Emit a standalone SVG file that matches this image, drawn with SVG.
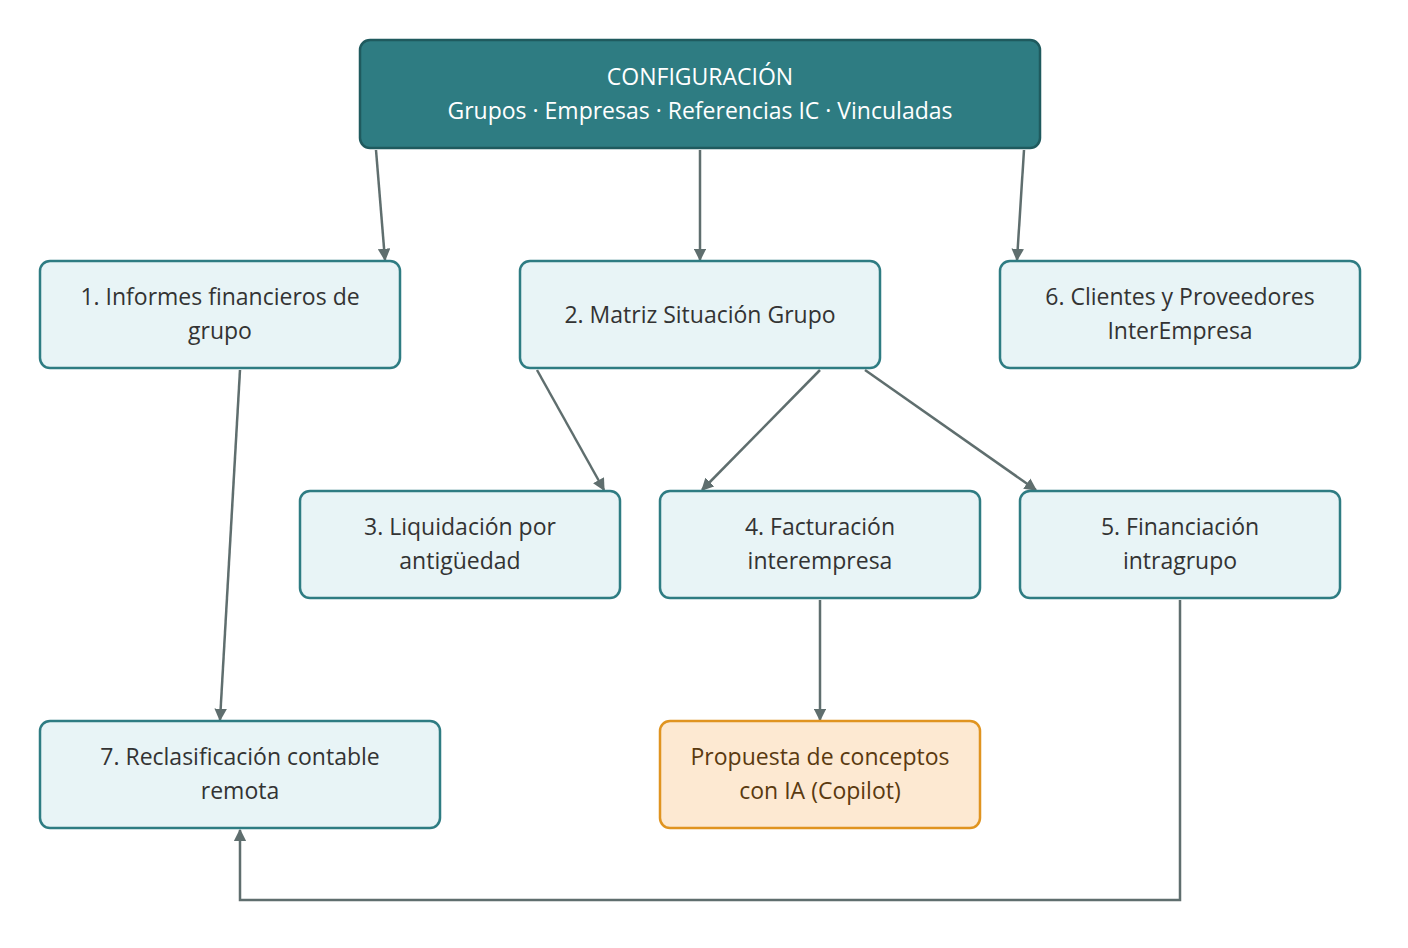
<svg xmlns="http://www.w3.org/2000/svg" width="1408" height="948" viewBox="0 0 1408 948">
<style>
.n rect{fill:#e8f4f6;stroke:#2e7c82;stroke-width:2.5}
.n text{font-family:"Segoe UI","Open Sans","Noto Sans",sans-serif;font-size:23px;fill:#333;text-anchor:middle}
#top rect{fill:#2e7c82;stroke:#1f5a5e}
#top text{fill:#fff}
#ia rect{fill:#fde9d2;stroke:#e09420}
#ia text{fill:#5a3a10}
.c path{fill:none;stroke:#5f6e6e;stroke-width:2.5;marker-end:url(#a)}
</style>
<defs><marker id="a" viewBox="0 0 10 10" refX="9" refY="5" markerWidth="5" markerHeight="5" orient="auto"><path d="M0,0L10,5L0,10z" fill="#5f6e6e"/></marker></defs>
<rect width="1408" height="948" fill="#fff"/>
<g class="c">
<path d="M376,150L385,260"/>
<path d="M700,150V260"/>
<path d="M1024,150L1017,260"/>
<path d="M240,370L220,720"/>
<path d="M537,370L604,490"/>
<path d="M820,370L702,490"/>
<path d="M865,370L1036,490"/>
<path d="M820,600V720"/>
<path d="M1180,600V900H240V830"/>
</g>
<g class="n" id="top"><rect x="360" y="40" width="680" height="108" rx="10"/><text x="700" y="85">CONFIGURACIÓN</text><text x="700" y="119">Grupos · Empresas · Referencias IC · Vinculadas</text></g>
<g class="n" id="n1"><rect x="40" y="261" width="360" height="107" rx="10"/><text x="220" y="305">1. Informes financieros de</text><text x="220" y="339">grupo</text></g>
<g class="n" id="n2"><rect x="520" y="261" width="360" height="107" rx="10"/><text x="700" y="323">2. Matriz Situación Grupo</text></g>
<g class="n" id="n6"><rect x="1000" y="261" width="360" height="107" rx="10"/><text x="1180" y="305">6. Clientes y Proveedores</text><text x="1180" y="339">InterEmpresa</text></g>
<g class="n" id="n3"><rect x="300" y="491" width="320" height="107" rx="10"/><text x="460" y="535">3. Liquidación por</text><text x="460" y="569">antigüedad</text></g>
<g class="n" id="n4"><rect x="660" y="491" width="320" height="107" rx="10"/><text x="820" y="535">4. Facturación</text><text x="820" y="569">interempresa</text></g>
<g class="n" id="n5"><rect x="1020" y="491" width="320" height="107" rx="10"/><text x="1180" y="535">5. Financiación</text><text x="1180" y="569">intragrupo</text></g>
<g class="n" id="n7"><rect x="40" y="721" width="400" height="107" rx="10"/><text x="240" y="765">7. Reclasificación contable</text><text x="240" y="799">remota</text></g>
<g class="n" id="ia"><rect x="660" y="721" width="320" height="107" rx="10"/><text x="820" y="765">Propuesta de conceptos</text><text x="820" y="799">con IA (Copilot)</text></g>
</svg>
